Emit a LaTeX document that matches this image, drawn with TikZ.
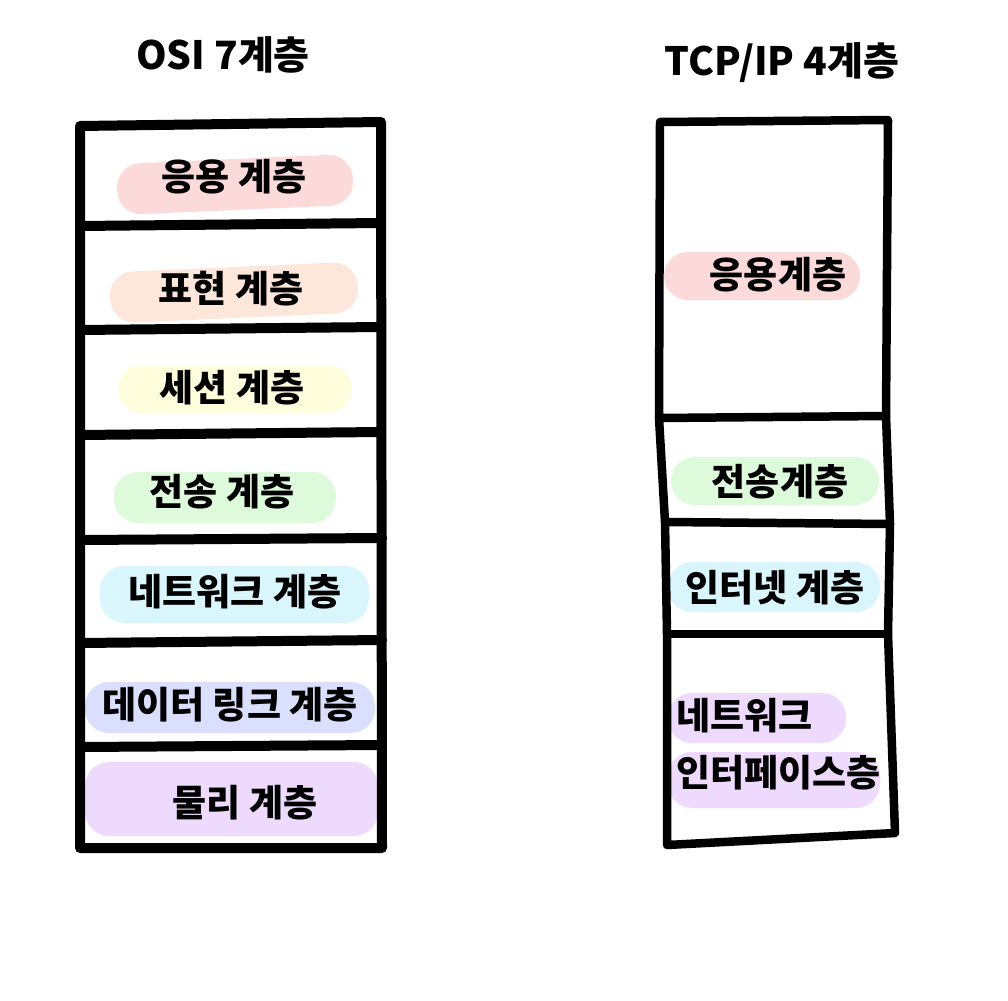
\documentclass[tikz,border=0pt]{standalone}
\usepackage{fontspec}
\setmainfont{Noto Sans CJK KR}
\begin{document}
\begin{tikzpicture}[x=1pt,y=-1pt,
  frame/.style={line width=10pt,line join=round,line cap=round,black},
  frameR/.style={line width=8.5pt,line join=round,line cap=round,black},
  lbl/.style={font=\fontsize{37}{37}\selectfont\bfseries,inner sep=0pt,anchor=center},
  ttl/.style={font=\fontsize{39}{39}\selectfont\bfseries,inner sep=0pt,anchor=center},
  pill/.style={rounded corners=24pt}]
\useasboundingbox (0,0) rectangle (1008,1000);
\definecolor{cpink}{HTML}{FDDADA}
\definecolor{cpeach}{HTML}{FDE6DA}
\definecolor{cyel}{HTML}{FEFDDC}
\definecolor{cgreen}{HTML}{DDFBDA}
\definecolor{ccyan}{HTML}{DAF6FD}
\definecolor{cblue}{HTML}{DADFFD}
\definecolor{cpurp}{HTML}{EEDAFC}

% highlight pills (left)
\fill[cpink,pill,rotate around={2.5:(235,184)}] (117,159) rectangle (353,210);
\fill[cpeach,pill,rotate around={2.5:(234,292)}] (110,267) rectangle (358,318);
\fill[cyel,pill] (118,365) rectangle (352,413);
\fill[cgreen,pill] (114,472) rectangle (336,523);
\fill[ccyan,pill] (100,566) rectangle (369,623);
\fill[cblue,pill] (85,682) rectangle (375,733);
\fill[cpurp,pill] (85,762) rectangle (378,836);
% highlight pills (right)
\fill[cpink,pill] (664,252) rectangle (860,300);
\fill[cgreen,pill] (671,457) rectangle (879,505);
\fill[ccyan,pill] (668,562) rectangle (880,612);
\fill[cpurp,pill] (668,693) rectangle (846,743);
\fill[cpurp,pill] (668,752) rectangle (880,808);

% left stack
\coordinate (L0l) at (80,126);  \coordinate (L0r) at (381,122);
\coordinate (L1l) at (80,226);  \coordinate (L1r) at (381,223);
\coordinate (L2l) at (80,330);  \coordinate (L2r) at (381,327);
\coordinate (L3l) at (80,435);  \coordinate (L3r) at (381,432);
\coordinate (L4l) at (80,540);  \coordinate (L4r) at (382,538);
\coordinate (L5l) at (80,643);  \coordinate (L5r) at (382,640);
\coordinate (L6l) at (80,747);  \coordinate (L6r) at (382,745);
\coordinate (L7l) at (80,848);  \coordinate (L7r) at (382,848);
\draw[frame] (L0l) -- (L0r) -- (L7r) -- (L7l) -- cycle;
\foreach \i in {1,...,6} \draw[frame] (L\i l) -- (L\i r);

% right stack
\coordinate (R0l) at (660,122); \coordinate (R0r) at (888,120);
\coordinate (R1l) at (659,418); \coordinate (R1r) at (886,416);
\coordinate (R2l) at (665,522); \coordinate (R2r) at (890,524);
\coordinate (R3l) at (667,634); \coordinate (R3r) at (888,634);
\coordinate (R4l) at (667,845); \coordinate (R4r) at (895,833);
\draw[frameR] (R0l) -- (R0r) -- (R1r) -- (R2r) -- (R3r) -- (R4r) -- (R4l) -- (R3l) -- (R2l) -- (R1l) -- cycle;
\draw[frameR] (R1l) -- (R1r);
\draw[frameR] (R2l) -- (R2r);
\draw[frameR] (R3l) -- (R3r);

% titles
\node[ttl] (tosi) at (223,55) {OSI 7계층};
\node[ttl] (ttcp) at (782,63) {TCP/IP 4계층};

% left labels
\node[lbl] (l1) at (234,177) {응용 계층};
\node[lbl] (l2) at (231,289) {표현 계층};
\node[lbl] (l3) at (232,388) {세션 계층};
\node[lbl] (l4) at (222,492) {전송 계층};
\node[lbl] (l5) at (235,592) {네트워크 계층};
\node[lbl] (l6) at (230,705) {데이터 링크 계층};
\node[lbl] (l7) at (245,803) {물리 계층};

% right labels
\node[lbl] (r1) at (778,275) {응용계층};
\node[lbl] (r2) at (780,482) {전송계층};
\node[lbl] (r3) at (775,588) {인터넷 계층};
\node[lbl,anchor=west] (r4a) at (676,716) {네트워크};
\node[lbl,anchor=west] (r4b) at (676,773) {인터페이스층};
\end{tikzpicture}
\end{document}
